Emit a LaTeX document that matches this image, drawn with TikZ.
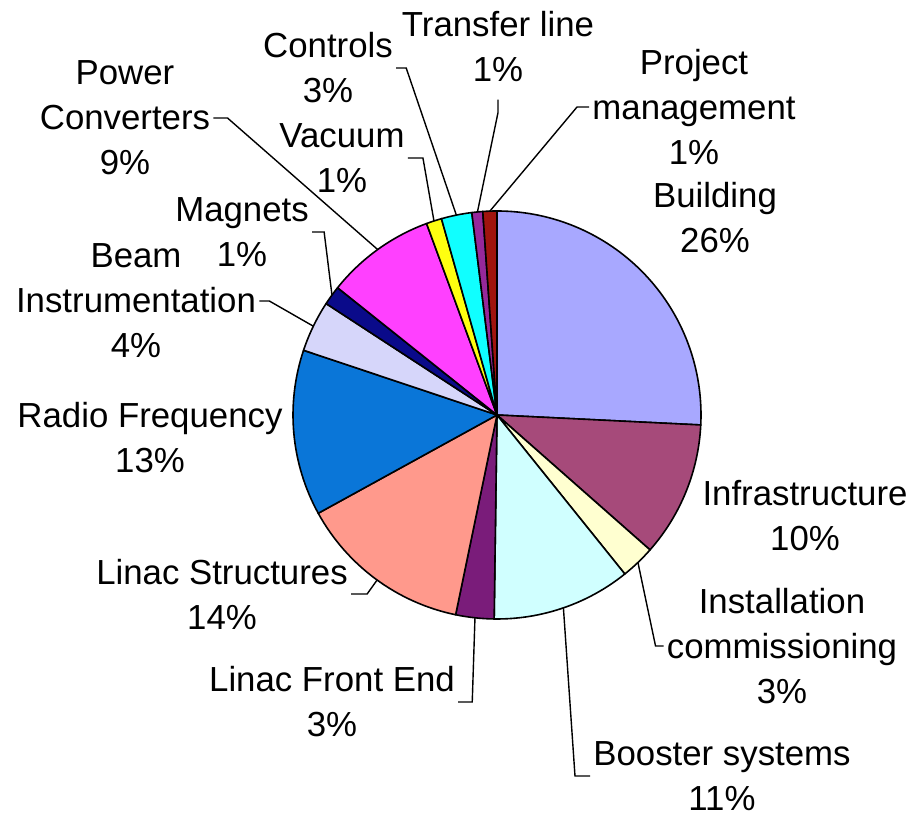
\documentclass[tikz,border=0pt]{standalone}
\usepackage{fontspec}
\setmainfont{Liberation Sans}
\definecolor{building}{RGB}{168,168,255}
\definecolor{infra}{RGB}{166,74,122}
\definecolor{install}{RGB}{255,255,208}
\definecolor{booster}{RGB}{208,255,255}
\definecolor{frontend}{RGB}{122,28,122}
\definecolor{structures}{RGB}{255,153,140}
\definecolor{radiofreq}{RGB}{10,118,216}
\definecolor{beaminst}{RGB}{214,214,250}
\definecolor{magnets}{RGB}{10,10,138}
\definecolor{powerconv}{RGB}{255,64,255}
\definecolor{vacuum}{RGB}{255,255,16}
\definecolor{controls}{RGB}{16,255,255}
\definecolor{transfer}{RGB}{150,40,155}
\definecolor{project}{RGB}{160,20,14}

\begin{document}
\begin{tikzpicture}[x=0.5pt,y=0.5pt,
  lbl/.style={align=center,font=\fontsize{17.4}{22.5}\selectfont,inner sep=1.5pt},
  slice/.style={draw=black,line width=0.8pt,line join=round},
  leader/.style={line width=0.7pt}]
\xdef\rad{204}
\fill[white] (0,0) rectangle (921,819);
\useasboundingbox (0,0) rectangle (921,819);
\coordinate (O) at (497,404);
\filldraw[slice,fill=building] (O)--([shift=(90:\rad)]O) arc[start angle=90,end angle=-2.8,radius=\rad]--cycle;
\filldraw[slice,fill=infra] (O)--([shift=(-2.8:\rad)]O) arc[start angle=-2.8,end angle=-41.4,radius=\rad]--cycle;
\filldraw[slice,fill=install] (O)--([shift=(-41.4:\rad)]O) arc[start angle=-41.4,end angle=-51.2,radius=\rad]--cycle;
\filldraw[slice,fill=booster] (O)--([shift=(-51.2:\rad)]O) arc[start angle=-51.2,end angle=-90.8,radius=\rad]--cycle;
\filldraw[slice,fill=frontend] (O)--([shift=(-90.8:\rad)]O) arc[start angle=-90.8,end angle=-101.7,radius=\rad]--cycle;
\filldraw[slice,fill=structures] (O)--([shift=(-101.7:\rad)]O) arc[start angle=-101.7,end angle=-151.2,radius=\rad]--cycle;
\filldraw[slice,fill=radiofreq] (O)--([shift=(-151.2:\rad)]O) arc[start angle=-151.2,end angle=-198.5,radius=\rad]--cycle;
\filldraw[slice,fill=beaminst] (O)--([shift=(-198.5:\rad)]O) arc[start angle=-198.5,end angle=-213.1,radius=\rad]--cycle;
\filldraw[slice,fill=magnets] (O)--([shift=(-213.1:\rad)]O) arc[start angle=-213.1,end angle=-218.6,radius=\rad]--cycle;
\filldraw[slice,fill=powerconv] (O)--([shift=(-218.6:\rad)]O) arc[start angle=-218.6,end angle=-249.8,radius=\rad]--cycle;
\filldraw[slice,fill=vacuum] (O)--([shift=(-249.8:\rad)]O) arc[start angle=-249.8,end angle=-254.2,radius=\rad]--cycle;
\filldraw[slice,fill=controls] (O)--([shift=(-254.2:\rad)]O) arc[start angle=-254.2,end angle=-262.9,radius=\rad]--cycle;
\filldraw[slice,fill=transfer] (O)--([shift=(-262.9:\rad)]O) arc[start angle=-262.9,end angle=-266,radius=\rad]--cycle;
\filldraw[slice,fill=project] (O)--([shift=(-266:\rad)]O) arc[start angle=-266,end angle=-270,radius=\rad]--cycle;

\node[lbl] (bld) at (715,601) {Building\\26\%};
\node[lbl] (inf) at (805,303) {Infrastructure\\10\%};
\node[lbl] (ic) at (782,173) {Installation\\commissioning\\3\%};
\node[lbl] (bs) at (722,43) {Booster systems\\11\%};
\node[lbl] (lfe) at (332,117) {Linac Front End\\3\%};
\node[lbl] (ls) at (222,225) {Linac Structures\\14\%};
\node[lbl] (rf) at (150,381) {Radio Frequency\\13\%};
\node[lbl] (bi) at (136,518) {Beam\\Instrumentation\\4\%};
\node[lbl] (mag) at (242,587) {Magnets\\1\%};
\node[lbl] (pc) at (125,701) {Power\\Converters\\9\%};
\node[lbl] (vac) at (342,661) {Vacuum\\1\%};
\node[lbl] (ctl) at (328,751) {Controls\\3\%};
\node[lbl] (tl) at (498,772) {Transfer line\\1\%};
\node[lbl] (pm) at (694,712) {Project\\management\\1\%};

\draw[leader] (ic.west)--++(-8,0)--([shift=(-46.3:\rad)]O);
\draw[leader] (bs.west)--++(-15,0)--([shift=(-71:\rad)]O);
\draw[leader] (lfe.east)--++(14,0)--([shift=(-96.2:\rad)]O);
\draw[leader] (ls.east)--++(16,0)--([shift=(-126:\rad)]O);
\draw[leader] (bi.east)--++(10,0)--([shift=(154.2:\rad)]O);
\draw[leader] (mag.east)--++(12,0)--([shift=(144:\rad)]O);
\draw[leader] (pc.east)--++(14,0)--([shift=(125.8:\rad)]O);
\draw[leader] (vac.east)--++(15,0)--([shift=(108:\rad)]O);
\draw[leader] (ctl.east)--++(10,0)--([shift=(101.5:\rad)]O);
\draw[leader] ([yshift=-7pt]tl.south)--++(0,-13)--([shift=(95.5:\rad)]O);
\draw[leader] (pm.west)--++(-12,0)--([shift=(92:\rad)]O);
\end{tikzpicture}
\end{document}
